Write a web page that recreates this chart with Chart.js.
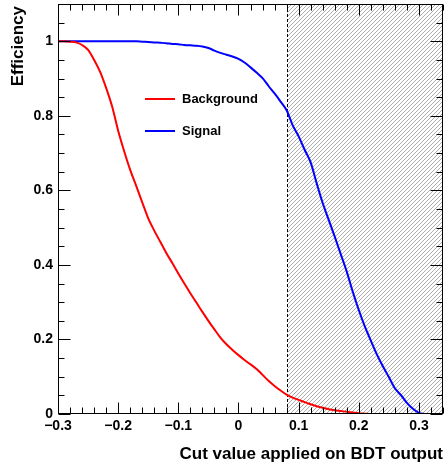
<!DOCTYPE html>
<html>
<head>
<meta charset="utf-8">
<script src="https://cdn.jsdelivr.net/npm/chart.js@4.4.1/dist/chart.umd.min.js"></script>
<style>
  body { margin: 0; background: #fff; }
  canvas { display: block; }
</style>
</head>
<body>
<canvas id="effChart" width="444" height="465"></canvas>
<script>
// BDT cut scan
const cutValues = [
    -0.30, -0.29, -0.28, -0.27, -0.26, -0.25, -0.24, -0.23, -0.22, -0.21,
    -0.20, -0.19, -0.18, -0.17, -0.16, -0.15, -0.14, -0.13, -0.12, -0.11,
    -0.10, -0.09, -0.08, -0.07, -0.06, -0.05, -0.04, -0.03, -0.02, -0.01,
     0.00,  0.01,  0.02,  0.03,  0.04,  0.05,  0.06,  0.07,  0.08,  0.09,
     0.10,  0.11,  0.12,  0.13,  0.14,  0.15,  0.16,  0.17,  0.18,  0.19,
     0.20,  0.21,  0.22,  0.23,  0.24,  0.25,  0.26,  0.27,  0.28,  0.29,
     0.30,  0.31
];

const bkgEff = [
    1.000, 1.000, 0.999, 0.997, 0.990, 0.977, 0.950, 0.918, 0.875, 0.825,
    0.760, 0.705, 0.655, 0.612, 0.568, 0.525, 0.492, 0.462, 0.432, 0.405,
    0.377, 0.350, 0.324, 0.299, 0.274, 0.250, 0.227, 0.205, 0.187, 0.172,
    0.158, 0.145, 0.133, 0.121, 0.105, 0.089, 0.075, 0.063, 0.052, 0.044,
    0.038, 0.032, 0.026, 0.021, 0.017, 0.013, 0.010, 0.008, 0.006, 0.004,
    0.002, 0.001, 0.000, 0.000, 0.000, 0.000, 0.000
];

const sigEff = [
    1.000, 1.000, 1.000, 1.000, 1.000, 1.000, 1.000, 1.000, 1.000, 1.000,
    1.000, 1.000, 1.000, 1.000, 0.999, 0.998, 0.997, 0.996, 0.995, 0.993,
    0.992, 0.990, 0.989, 0.988, 0.986, 0.982, 0.975, 0.969, 0.964, 0.959,
    0.953, 0.943, 0.930, 0.916, 0.901, 0.880, 0.860, 0.838, 0.815, 0.775,
    0.745, 0.709, 0.675, 0.619, 0.566, 0.521, 0.476, 0.429, 0.382, 0.328,
    0.279, 0.235, 0.197, 0.160, 0.128, 0.099, 0.069, 0.051, 0.030, 0.014,
    0.003, 0.000
];

const xTicks = [-0.3, -0.2, -0.1, 0, 0.1, 0.2, 0.3];
const yTicks = [0, 0.2, 0.4, 0.6, 0.8, 1];

const cutValue = 0.08;
const xRange = [-0.3, 0.34];
const yRange = [0, 1.1];
const seriesLabels = ["Background", "Signal"];
const seriesColors = ["#ff0000", "#0000ff"];
const xTitle = "Cut value applied on BDT output";
const yTitle = "Efficiency";

const FONT = '"Liberation Sans", Arial, sans-serif';

function toPoints(values) {
    return values.map((v, i) => ({ x: cutValues[i], y: v }));
}

function fmtTick(v) {
    if (Math.abs(v) < 1e-9) return "0";
    const s = Math.abs(v).toFixed(1).replace(/\.0$/, "");
    return (v < 0 ? "\u2212" : "") + s;
}

// diagonal hatch for the rejected region
function hatchPattern(ctx) {
    const tile = document.createElement("canvas");
    tile.width = 4;
    tile.height = 4;
    const t = tile.getContext("2d");
    t.strokeStyle = "#999";
    t.lineWidth = 0.8;
    t.beginPath();
    t.moveTo(-1, 1); t.lineTo(1, -1);
    t.moveTo(0, 4); t.lineTo(4, 0);
    t.moveTo(3, 5); t.lineTo(5, 3);
    t.stroke();
    return ctx.createPattern(tile, "repeat");
}

const rootFrame = {
    id: "rootFrame",
    beforeDatasetsDraw(chart) {
        const { ctx, chartArea: a, scales: { x } } = chart;
        const xc = Math.round(x.getPixelForValue(cutValue)) + 0.5;
        ctx.save();
        ctx.fillStyle = hatchPattern(ctx);
        ctx.fillRect(xc, a.top, a.right - xc, a.bottom - a.top);

        // cut position
        ctx.strokeStyle = "#000";
        ctx.lineWidth = 1;
        ctx.setLineDash([3, 2]);
        ctx.beginPath();
        ctx.moveTo(xc, a.top);
        ctx.lineTo(xc, a.bottom);
        ctx.stroke();
        ctx.restore();
    },
    afterDatasetsDraw(chart) {
        const { ctx, chartArea: a, scales: { x, y } } = chart;
        const L = Math.round(a.left) + 0.5, R = Math.round(a.right) - 0.5;
        const T = Math.round(a.top) + 0.5, B = Math.round(a.bottom) - 0.5;
        ctx.save();
        ctx.strokeStyle = "#000";
        ctx.lineWidth = 1;
        ctx.strokeRect(L, T, R - L, B - T);

        // ticks on all four sides, pointing inwards
        ctx.beginPath();
        for (let i = -15; i <= 17; i++) {
            const v = i * 0.02;
            if (v > xRange[1] + 1e-9) continue;
            const px = Math.round(x.getPixelForValue(v)) + 0.5;
            const len = i % 5 === 0 ? 11 : 6;
            ctx.moveTo(px, B); ctx.lineTo(px, B - len);
            ctx.moveTo(px, T); ctx.lineTo(px, T + len);
        }
        for (let i = 0; i <= 22; i++) {
            const v = i * 0.05;
            const py = Math.round(y.getPixelForValue(v)) + 0.5;
            const len = i % 4 === 0 ? 12 : 6;
            ctx.moveTo(L, py); ctx.lineTo(L + len, py);
            ctx.moveTo(R, py); ctx.lineTo(R - len, py);
        }
        ctx.stroke();

        // tick labels
        ctx.fillStyle = "#000";
        ctx.font = "bold 14px " + FONT;
        ctx.textAlign = "center";
        ctx.textBaseline = "top";
        xTicks.forEach(v => ctx.fillText(fmtTick(v), x.getPixelForValue(v), a.bottom + 5));
        ctx.textAlign = "right";
        ctx.textBaseline = "middle";
        yTicks.forEach(v => ctx.fillText(fmtTick(v), a.left - 5, y.getPixelForValue(v)));

        // legend
        ctx.font = "bold 13px " + FONT;
        ctx.textBaseline = "middle";
        ctx.textAlign = "left";
        chart.data.datasets.forEach((ds, i) => {
            const ly = 99 + i * 32;
            ctx.strokeStyle = ds.borderColor;
            ctx.lineWidth = 2;
            ctx.beginPath();
            ctx.moveTo(145, ly);
            ctx.lineTo(175, ly);
            ctx.stroke();
            ctx.fillStyle = "#000";
            ctx.fillText(ds.label, 182, ly);
        });

        // axis titles
        ctx.fillStyle = "#000";
        ctx.font = "bold 17px " + FONT;
        ctx.textAlign = "right";
        ctx.textBaseline = "alphabetic";
        ctx.fillText(xTitle, a.right, a.bottom + 45);

        ctx.translate(23, a.top + 2);
        ctx.rotate(-Math.PI / 2);
        ctx.fillText(yTitle, 0, 0);
        ctx.restore();
    }
};

new Chart(document.getElementById("effChart"), {
    type: "line",
    data: {
        datasets: [
            {
                label: seriesLabels[0],
                data: toPoints(bkgEff),
                borderColor: seriesColors[0],
                borderWidth: 2,
                pointRadius: 0,
                cubicInterpolationMode: "monotone",
                fill: false
            },
            {
                label: seriesLabels[1],
                data: toPoints(sigEff),
                borderColor: seriesColors[1],
                borderWidth: 2,
                pointRadius: 0,
                cubicInterpolationMode: "monotone",
                fill: false
            }
        ]
    },
    options: {
        responsive: false,
        animation: false,
        devicePixelRatio: 1,
        layout: { padding: { top: 4, right: 1, left: 0, bottom: 0 } },
        plugins: {
            legend: { display: false },
            tooltip: { enabled: false }
        },
        scales: {
            x: {
                type: "linear",
                min: xRange[0],
                max: xRange[1],
                grid: { display: false, drawTicks: false },
                border: { display: false },
                ticks: { display: false },
                afterFit(scale) { scale.height = 51; }
            },
            y: {
                type: "linear",
                min: yRange[0],
                max: yRange[1],
                grid: { display: false, drawTicks: false },
                border: { display: false },
                ticks: { display: false },
                afterFit(scale) { scale.width = 58; }
            }
        }
    },
    plugins: [rootFrame]
});
</script>
</body>
</html>
